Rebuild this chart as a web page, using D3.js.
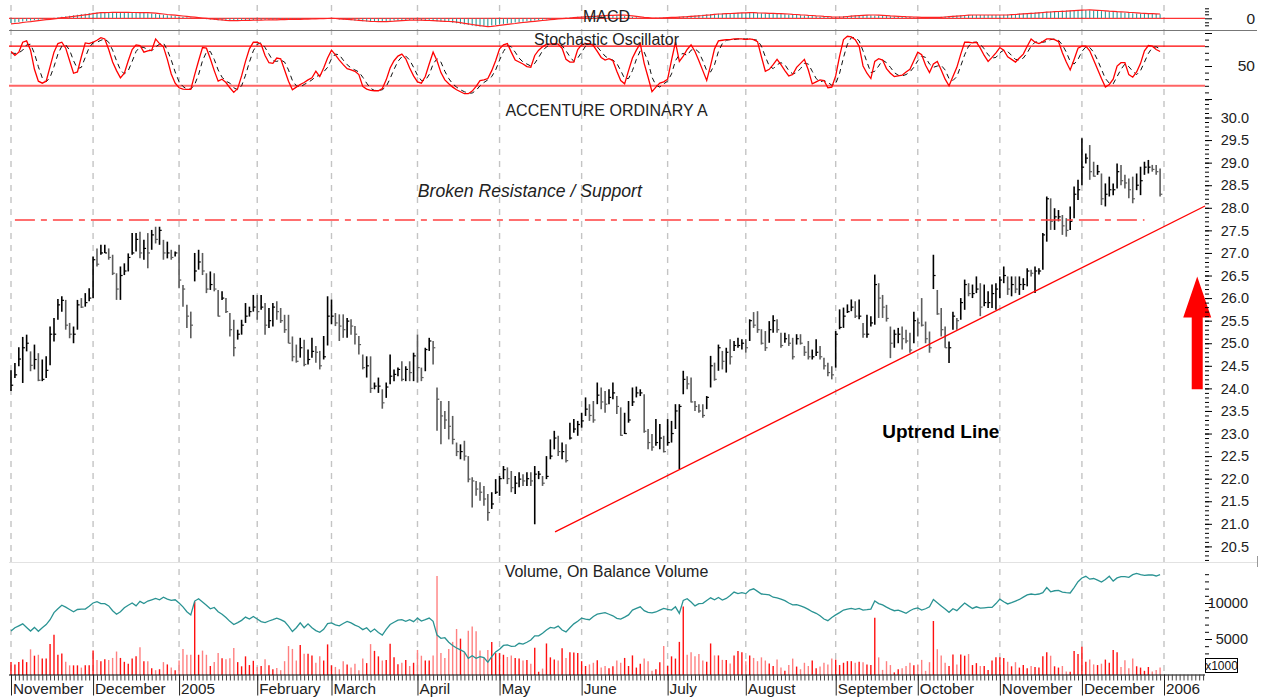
<!DOCTYPE html>
<html>
<head>
<meta charset="utf-8">
<style>
  body { margin: 0; background: #fff; }
  svg { display: block; font-family: "Liberation Sans", Arial, sans-serif; }
</style>
</head>
<body>
<div id="container"></div>
<script src="https://cdn.jsdelivr.net/npm/d3@7"></script>
<script>
    // Trading days Nov 1 2004 .. Dec 30 2005, one entry per day (index = day number)
    let monthStarts = [0, 21, 43, 63, 82, 104, 125, 146, 168, 188, 211, 232, 253, 274, 295];
    let monthLabels = ["November", "December", "2005", "February", "March", "April", "May", "June",
        "July", "August", "September", "October", "November", "December", "2006"];

    let high = [
        24.40,24.56,24.91,25.14,25.19,24.82,24.97,24.78,24.64,24.71,
        25.37,25.56,25.98,26.04,25.96,25.45,25.37,25.96,26.00,26.11,
        26.22,26.92,27.10,27.18,27.18,27.10,26.96,26.55,26.70,26.77,
        26.99,27.44,27.44,27.47,27.29,27.44,27.51,27.58,27.58,27.29,
        27.25,27.07,27.03,27.18,26.29,25.85,25.70,27.00,27.07,27.00,
        26.55,26.59,26.55,26.18,26.15,26.00,25.67,25.52,25.30,25.52,
        25.89,25.81,26.07,26.07,26.07,25.89,25.78,25.89,25.93,25.78,
        25.63,25.63,25.15,24.97,25.12,25.08,24.86,25.12,24.94,24.83,
        25.16,26.04,25.97,25.67,25.64,25.64,25.56,25.53,25.38,25.16,
        24.75,24.71,24.71,24.13,24.24,23.98,24.13,24.75,24.42,24.46,
        24.60,24.49,24.60,24.79,25.19,24.46,24.90,25.12,25.05,24.02,
        23.72,23.50,23.72,23.39,22.80,22.76,22.84,22.50,22.03,21.95,
        21.92,21.84,21.66,21.70,21.99,22.06,22.28,22.25,22.17,22.06,
        22.14,22.10,22.14,22.14,22.28,22.17,22.06,22.50,22.87,23.06,
        22.95,22.80,22.76,23.24,23.32,23.28,23.46,23.80,23.65,23.72,
        24.13,24.02,23.94,23.98,24.13,23.83,23.58,23.46,23.72,24.02,
        24.04,23.98,23.87,23.10,22.99,23.32,23.21,22.95,23.32,23.28,
        23.65,23.65,24.39,24.27,24.24,23.72,23.65,23.65,23.83,24.72,
        24.57,24.97,24.83,24.90,25.09,25.05,25.12,25.09,25.09,25.53,
        25.69,25.71,25.31,25.27,25.49,25.62,25.53,25.23,25.23,25.20,
        25.12,25.20,25.20,24.94,25.05,24.86,25.09,24.94,24.68,24.57,
        24.49,25.27,25.75,25.79,25.86,25.97,25.93,25.97,25.45,25.63,
        25.60,26.52,26.33,26.07,25.85,25.37,25.30,25.34,25.37,25.30,
        25.23,25.70,25.55,26.00,25.48,25.26,26.96,26.18,25.78,25.37,
        25.04,25.70,25.56,26.00,26.41,26.33,26.30,26.48,26.33,26.30,
        26.15,26.30,26.33,26.48,26.70,26.48,26.48,26.48,26.48,26.44,
        26.66,26.63,26.70,26.66,27.44,28.25,28.21,27.99,27.95,27.84,
        27.77,28.03,28.47,28.62,29.54,29.20,29.39,29.02,28.95,28.76,
        28.54,28.69,28.54,28.98,28.95,28.73,28.65,28.69,28.76,28.91,
        29.02,29.06,28.95,28.95,28.87];
    let low = [
        23.94,24.23,24.49,24.12,24.82,24.38,24.42,24.16,24.16,24.23,
        24.51,25.04,25.52,25.70,25.30,25.11,25.00,25.30,25.78,25.81,
        25.93,26.00,26.70,26.96,27.00,26.85,26.51,25.96,25.96,26.51,
        26.59,26.96,27.03,26.88,26.85,26.66,27.07,27.21,27.18,26.85,
        26.88,26.85,26.92,26.22,25.81,25.34,25.11,26.37,26.63,26.51,
        26.11,26.18,26.15,25.59,25.96,25.67,25.15,24.71,25.08,25.19,
        25.45,25.59,25.70,25.52,25.74,25.19,25.34,25.37,25.52,25.45,
        25.23,25.00,24.60,24.57,24.68,24.49,24.53,24.68,24.57,24.42,
        24.64,24.95,25.42,25.38,25.05,25.12,25.12,25.19,24.97,24.75,
        24.42,24.24,23.90,23.98,23.90,23.55,23.79,24.09,24.16,24.27,
        24.16,24.16,24.16,24.16,24.13,24.16,24.38,24.83,24.53,23.06,
        22.76,23.10,22.87,22.76,22.50,22.43,22.40,21.92,21.36,21.62,
        21.51,21.40,21.07,21.33,21.66,21.62,21.99,21.88,21.70,21.66,
        21.81,21.84,21.84,21.84,20.99,21.99,21.84,21.99,22.43,22.65,
        22.50,22.43,22.36,22.87,23.02,22.95,23.13,23.39,23.28,23.24,
        23.65,23.54,23.46,23.65,23.76,23.43,22.95,22.99,23.24,23.61,
        23.80,23.83,23.02,22.65,22.62,22.73,22.65,22.58,22.73,22.80,
        23.10,22.21,23.87,23.98,23.69,23.50,23.46,23.35,23.54,24.02,
        24.17,24.39,24.42,24.35,24.53,24.83,24.90,24.86,24.79,25.05,
        25.34,25.23,24.97,24.83,25.01,25.23,25.23,24.90,25.01,24.94,
        24.64,24.97,24.97,24.72,24.64,24.64,24.72,24.64,24.42,24.27,
        24.20,24.46,25.31,25.34,25.67,25.71,25.56,25.53,25.12,25.12,
        25.37,25.41,25.56,25.56,25.48,24.67,24.90,25.00,24.86,25.00,
        24.79,25.00,25.15,25.37,25.00,24.79,26.20,25.63,25.15,24.90,
        24.56,25.30,25.30,25.52,25.74,26.04,26.00,26.11,25.60,25.82,
        25.78,25.78,25.74,26.00,26.33,26.07,26.04,26.11,26.07,26.18,
        26.26,26.48,26.11,26.52,26.63,27.25,27.51,27.51,27.70,27.40,
        27.36,27.51,27.77,28.17,28.50,28.98,28.62,28.69,28.73,28.06,
        28.03,28.25,28.28,28.43,28.50,28.43,28.21,28.10,28.39,28.28,
        28.73,28.76,28.80,28.73,28.25];
    let close = [
        24.07,24.30,24.65,24.90,25.00,24.51,24.64,24.18,24.20,24.40,
        25.20,25.20,25.85,25.95,25.40,25.20,25.20,25.85,25.80,25.90,
        26.00,26.85,26.75,27.00,27.00,26.90,26.55,26.20,26.50,26.60,
        26.90,27.00,27.30,27.00,27.10,27.00,27.40,27.30,27.50,27.00,
        27.00,26.90,27.00,26.40,26.20,25.60,25.40,26.60,26.80,26.60,
        26.20,26.30,26.20,25.60,26.00,25.70,25.30,24.90,25.20,25.40,
        25.60,25.70,25.80,25.70,25.80,25.40,25.50,25.80,25.70,25.50,
        25.30,25.00,24.70,24.60,24.90,24.53,24.64,24.82,24.80,24.50,
        24.70,25.60,25.60,25.45,25.38,25.30,25.49,25.38,25.20,24.97,
        24.46,24.50,24.00,24.05,24.05,23.68,24.03,24.27,24.31,24.42,
        24.20,24.42,24.35,24.72,24.46,24.24,24.86,25.05,24.90,23.76,
        23.39,23.30,23.16,22.87,22.60,22.60,22.50,21.99,21.95,21.77,
        21.70,21.55,21.25,21.44,21.70,22.00,22.20,22.00,21.80,21.90,
        21.99,21.95,22.00,21.95,22.10,22.10,21.90,22.05,22.50,22.90,
        22.60,22.60,22.40,22.90,23.10,23.20,23.28,23.54,23.40,23.30,
        23.85,23.70,23.65,23.80,23.90,23.60,22.96,23.00,23.30,23.70,
        23.90,23.90,23.05,22.80,22.70,22.80,22.90,22.60,22.80,23.00,
        23.50,23.60,24.20,24.10,23.70,23.60,23.50,23.40,23.80,24.50,
        24.20,24.90,24.60,24.80,24.70,24.95,24.95,25.00,24.90,25.50,
        25.40,25.30,25.00,24.90,25.30,25.50,25.30,24.95,25.10,25.00,
        24.70,25.10,25.00,24.80,24.70,24.70,24.80,24.70,24.50,24.35,
        24.30,25.20,25.35,25.60,25.70,25.80,25.60,25.60,25.20,25.20,
        25.45,26.30,26.00,25.80,25.55,25.00,25.20,25.20,25.10,25.05,
        24.85,25.50,25.45,25.40,25.10,24.90,26.50,25.65,25.30,24.90,
        24.90,25.60,25.50,25.90,26.30,26.10,26.10,26.20,25.80,25.90,
        25.90,26.10,26.20,26.40,26.50,26.20,26.30,26.20,26.30,26.30,
        26.60,26.55,26.60,26.60,27.40,28.20,27.70,27.80,27.80,27.60,
        27.50,27.70,28.30,28.40,28.90,29.10,28.80,28.70,28.80,28.20,
        28.30,28.40,28.40,28.80,28.60,28.55,28.40,28.20,28.50,28.60,
        28.90,28.90,28.85,28.80,28.30];

    // Volume (x1000 shares) and On Balance Volume
    let volume = [
        1790,1470,1790,2140,1790,3570,2680,2810,2280,2280,
        4290,5580,2810,2990,1830,1340,1340,1340,1030,1340,
        1340,3390,2100,1920,2190,2100,2370,3260,2370,1830,
        1560,2280,2590,3840,1920,1920,940,670,800,1790,
        1470,1030,670,2010,3620,2810,2810,10190,2810,3390,
        2810,1250,1790,3040,2320,2190,2320,3750,1790,1210,
        2590,1380,1970,1120,1250,2190,1340,800,980,670,
        1920,4020,3620,2010,4150,2950,2950,2720,1700,2590,
        2010,4250,1340,1120,800,1920,1470,1030,1560,670,
        2280,1650,4290,3350,2590,2010,2100,4330,2450,1510,
        1700,2100,1250,1700,3480,2680,2010,2010,2720,13760,
        3040,2370,3620,4600,6390,5050,3170,6160,6740,6070,
        3390,2370,3480,4600,3040,3040,2810,2500,2720,2370,
        2280,2010,2100,1570,3800,450,890,4380,2450,2140,
        2010,3710,2370,3170,3120,3040,1920,1250,1470,1700,
        2050,1030,1250,940,1210,2010,1700,2370,1250,2720,
        1030,1570,2280,1920,580,800,1780,4020,1250,2590,
        2280,4600,9510,2810,3170,2590,2910,2010,1840,4380,
        2720,2720,2100,2100,1610,2720,3350,3170,1920,2720,
        2370,1920,2450,2010,1610,1250,2140,1030,580,1380,
        2280,1170,800,1700,1250,2010,940,1170,1700,1470,
        2280,2140,1380,1700,1920,1920,1700,1840,1780,1470,
        1380,7950,2450,710,1920,1380,360,800,940,1250,
        1700,1340,1470,2100,580,1780,7500,3580,2720,1700,
        1250,2850,1470,2850,2680,2910,1380,1650,1250,1250,
        710,2010,2450,2450,2370,1840,1210,1780,1030,1380,
        940,1250,1110,1030,2590,3170,2680,1210,1030,1250,
        500,440,3350,2910,3930,1840,2140,1470,1380,1570,
        2140,1700,3480,3170,1110,2050,940,2280,1210,1030,
        580,1110,500,710,1030];
    let obv = [
        6110,6560,6830,7100,6600,6110,6610,6070,6560,7000,
        7680,8660,9200,9690,9420,9100,8790,9100,9150,9150,
        9550,10000,10190,9920,9920,9600,8930,8440,8790,9330,
        9690,10000,9600,10230,9920,10270,10450,10630,10450,10800,
        10540,10360,10450,10000,9470,8790,8350,10270,10590,10140,
        9690,9200,9380,8790,8440,7990,7450,7010,7280,7590,
        8040,7770,8130,7770,7410,7280,7500,7680,7900,7680,
        7410,6790,6030,6560,7240,6560,7100,6560,6160,5940,
        6340,7150,7240,6970,6830,7150,7450,7240,6920,6700,
        6300,6560,5980,6380,5900,5540,6340,7010,7320,7630,
        7680,7450,7680,7410,7900,7500,7680,7900,7450,5540,
        5090,5180,4550,4100,3750,3480,3210,2320,2680,2320,
        2540,2410,1780,2540,3210,3570,4100,4190,3970,4010,
        4410,4280,4550,4860,5440,5440,5800,6250,6600,6520,
        6790,6250,5980,6560,7100,7460,7900,7770,7680,8130,
        8440,8570,8660,8440,8220,7860,7770,8040,8350,9020,
        9240,9470,8930,8710,8620,8750,9020,9240,9110,9020,
        9470,8570,10360,10590,10140,9600,9920,9960,10360,10720,
        10450,10760,10410,10630,11030,11520,11300,11430,11300,11790,
        11970,11610,11250,11210,11120,10800,10720,10540,10320,10000,
        9740,9780,9600,9380,9110,8790,8570,8220,7770,7550,
        7990,8350,8660,9020,9150,9240,9110,9240,9020,9070,
        9150,10270,9920,9740,9420,9150,8930,9020,8790,8570,
        8930,9200,9330,9020,9200,9470,10490,10050,9600,9150,
        8710,9200,8930,9470,10000,9600,9240,9470,9290,9330,
        9380,9380,9920,10540,10180,9870,10050,10270,10490,10810,
        11120,11250,11160,11250,11430,12140,11560,11700,11740,11520,
        11430,11390,12140,12950,13480,13710,13310,13400,13170,12900,
        13260,13710,13040,13480,13660,13660,13570,13930,14110,13930,
        13840,13890,13890,13750,13930];

    // Stochastic oscillator %K (solid) and %D (dashed)
    let stochK = [
        72,66,71,86,88,74,45,27,24,27,
        49,71,84,86,77,58,39,41,64,85,
        84,86,89,93,91,75,56,43,32,39,
        58,75,82,81,71,73,74,91,84,79,
        60,38,24,17,15,14.5,14.5,37,58,78,
        77,61,43,27,30,25,17,10,16,35,
        57,76,86,86,83,66,55,54,62,61,
        44,27,14,18,22,25,29,32,42,34,
        47,62,74,67,59,52,46,44,42,37,
        19,15,13,12.5,12.5,16,29,47,58,65,
        68,61,47,35,26,24,34,53,71,58,
        40,29,23,18,14,11,8,8,12,19,
        28,29,31,43,58,76,82,84,71,59,
        56,53,49,48,66,74,79,83,83,84,
        83,77,60,56,56,75,82,84,84,81,
        72,63,59,61,58,42,28,23,43,62,
        74,84,54,33,11,18,24,26,30,59,
        86,57,65,75,82,72,58,43,28,51,
        76,88,89,90,90,91,91,91,90,91,
        90,87,64,42,45,52,60,52,43,35,
        37,48,54,60,44,23,26,29,28,17,
        18,35,65,90,95,94,90,80,50,39,
        31,57,61,59,46,39,34,35,36,41,
        45,58,71,67,51,40,53,57,44,30,
        20,34,48,68,86,86,85,86,77,66,
        57,63,70,78,74,64,60,56,62,68,
        80,91,86,84,87,91,91,90,87,70,
        56,44,60,77,80,80,73,59,45,31,
        18,22,30,50,55,55,37,33,41,54,
        73,81,80,75,72];
    let stochD = [
        70,69,70,74,82,83,69,49,32,26,
        33,49,68,80,82,74,58,46,48,63,
        78,85,86,89,91,86,74,58,44,38,
        43,57,72,79,78,75,73,79,83,85,
        74,59,41,26,19,15,15,22,37,58,
        71,72,60,44,33,27,24,17,14,20,
        36,56,73,83,85,78,68,58,57,59,
        56,44,28,20,18,22,25,29,34,36,
        41,48,61,68,67,59,52,47,44,41,
        33,24,16,13,13,14,19,31,45,57,
        64,65,59,48,36,28,28,37,53,61,
        56,42,31,23,18,14,11,9,9,13,
        20,25,29,34,44,59,72,81,79,71,
        62,56,53,50,54,63,73,79,82,83,
        83,81,73,64,57,62,71,80,83,83,
        79,72,65,61,59,54,43,31,31,43,
        60,73,71,57,33,21,18,23,27,38,
        58,67,69,66,74,76,71,58,43,41,
        52,72,84,89,90,90,91,91,91,91,
        90,89,80,64,50,46,52,55,52,43,
        38,40,46,54,53,42,31,26,28,25,
        21,23,39,63,83,93,93,88,73,56,
        40,42,50,59,55,48,40,36,35,37,
        41,48,58,65,63,53,48,50,51,44,
        31,28,34,50,67,80,86,86,83,76,
        67,62,63,70,74,72,66,60,59,62,
        70,80,86,87,86,87,90,91,89,82,
        71,57,53,60,72,79,78,71,59,45,
        31,24,23,34,45,53,49,42,37,43,
        56,69,78,79,76];

    // MACD (x100): histogram bars and signal line
    let macdHist = [
        -4.8,-4.2,-3.7,-3.3,-2.8,-2.3,-1.8,-1.4,-1.0,-0.5,
        0,0.6,1.0,1.5,2.0,2.5,3.0,3.5,4.0,4.6,
        5.2,5.6,5.7,5.8,5.9,5.9,5.9,5.9,5.9,5.8,
        5.8,5.7,5.7,5.6,5.5,5.1,4.7,4.3,3.8,3.5,
        3.1,2.7,2.3,1.9,1.5,1.1,0.7,0.3,-0.1,-0.5,
        -0.9,-1.3,-1.6,-2.0,-2.3,-2.4,-2.3,-2.2,-2.1,-2.0,
        -1.9,-1.8,-1.8,-1.7,-1.6,-1.6,-1.5,-1.4,-1.3,-1.2,
        -1.1,-1.0,-1.0,-0.9,-0.8,-0.7,-0.5,-0.4,-0.3,-0.2,
        -0.1,-0.2,-0.5,-0.8,-1.1,-1.4,-1.7,-2.0,-2.4,-2.7,
        -3.0,-3.2,-3.3,-3.4,-3.3,-3.0,-2.8,-2.5,-2.3,-2.1,
        -1.9,-1.8,-1.7,-1.8,-2.0,-2.2,-2.4,-2.6,-2.8,-3.0,
        -3.2,-3.4,-3.8,-4.4,-5.0,-5.6,-6.2,-6.8,-7.4,-7.9,
        -8.3,-8.0,-7.6,-7.1,-6.6,-6.1,-5.6,-5.2,-4.6,-4.2,
        -3.8,-3.4,-3.0,-2.6,-2.2,-1.8,-1.4,-1.0,-0.7,-0.4,
        -0.1,0.2,0.6,0.9,1.2,1.5,1.8,2.0,2.2,2.5,
        2.7,2.9,3.0,3.2,3.3,3.2,2.8,2.4,2.0,1.5,
        1.0,0.6,0.2,0.1,0.3,0.5,0.7,0.9,1.0,1.2,
        1.4,1.6,1.9,2.2,2.5,2.8,3.2,3.5,3.9,4.3,
        4.4,4.6,4.8,5.0,5.2,5.4,5.5,5.6,5.6,5.4,
        5.3,5.2,5.0,4.9,4.7,4.6,4.5,4.3,4.0,3.8,
        3.5,3.3,3.0,2.8,2.5,2.3,2.0,1.8,1.5,1.3,
        1.3,1.5,1.8,2.1,2.4,2.7,3.0,3.2,3.3,3.3,
        3.1,2.9,2.7,2.4,2.2,2.0,1.8,1.6,1.5,1.3,
        1.2,1.0,1.0,1.0,1.0,1.0,1.0,1.3,1.6,1.9,
        2.2,2.5,2.8,3.1,3.3,3.3,3.3,3.3,3.3,3.3,
        3.3,3.3,3.3,3.3,3.6,3.8,4.1,4.4,4.7,5.0,
        5.2,5.5,5.8,6.1,6.3,6.6,6.8,7.0,7.2,7.5,
        7.7,7.9,8.1,8.3,8.4,8.2,8.0,7.8,7.5,7.2,
        7.0,6.7,6.5,6.3,6.0,5.8,5.5,5.1,4.9,4.7,
        4.6,4.5,4.3,4.2,4.1];
    let macdSignal = [
        -5.6,-5.2,-4.8,-4.2,-3.7,-3.3,-2.8,-2.3,-1.8,-1.4,
        -1.0,-0.5,0,0.6,1.0,1.5,2.0,2.5,3.0,3.5,
        4.0,4.6,5.2,5.6,5.7,5.8,5.9,5.9,5.9,5.9,
        5.9,5.8,5.8,5.7,5.7,5.6,5.5,5.1,4.7,4.3,
        3.8,3.5,3.1,2.7,2.3,1.9,1.5,1.1,0.7,0.3,
        -0.1,-0.5,-0.9,-1.3,-1.6,-2.0,-2.3,-2.4,-2.3,-2.2,
        -2.1,-2.0,-1.9,-1.8,-1.8,-1.7,-1.6,-1.6,-1.5,-1.4,
        -1.3,-1.2,-1.1,-1.0,-1.0,-0.9,-0.8,-0.7,-0.5,-0.4,
        -0.3,-0.2,-0.1,-0.2,-0.5,-0.8,-1.1,-1.4,-1.7,-2.0,
        -2.4,-2.7,-3.0,-3.2,-3.3,-3.4,-3.3,-3.0,-2.8,-2.5,
        -2.3,-2.1,-1.9,-1.8,-1.7,-1.8,-2.0,-2.2,-2.4,-2.6,
        -2.8,-3.0,-3.2,-3.4,-3.8,-4.4,-5.0,-5.6,-6.2,-6.8,
        -7.4,-7.9,-8.3,-8.0,-7.6,-7.1,-6.6,-6.1,-5.6,-5.2,
        -4.6,-4.2,-3.8,-3.4,-3.0,-2.6,-2.2,-1.8,-1.4,-1.0,
        -0.7,-0.4,-0.1,0.2,0.6,0.9,1.2,1.5,1.8,2.0,
        2.2,2.5,2.7,2.9,3.0,3.2,3.3,3.2,2.8,2.4,
        2.0,1.5,1.0,0.6,0.2,0.1,0.3,0.5,0.7,0.9,
        1.0,1.2,1.4,1.6,1.9,2.2,2.5,2.8,3.2,3.5,
        3.9,4.3,4.4,4.6,4.8,5.0,5.2,5.4,5.5,5.6,
        5.6,5.4,5.3,5.2,5.0,4.9,4.7,4.6,4.5,4.3,
        4.0,3.8,3.5,3.3,3.0,2.8,2.5,2.3,2.0,1.8,
        1.5,1.3,1.3,1.5,1.8,2.1,2.4,2.7,3.0,3.2,
        3.3,3.3,3.1,2.9,2.7,2.4,2.2,2.0,1.8,1.6,
        1.5,1.3,1.2,1.0,1.0,1.0,1.0,1.0,1.0,1.3,
        1.6,1.9,2.2,2.5,2.8,3.1,3.3,3.3,3.3,3.3,
        3.3,3.3,3.3,3.3,3.3,3.3,3.6,3.8,4.1,4.4,
        4.7,5.0,5.2,5.5,5.8,6.1,6.3,6.6,6.8,7.0,
        7.2,7.5,7.7,7.9,8.1,8.3,8.4,8.2,8.0,7.8,
        7.5,7.2,7.0,6.7,6.5,6.3,6.0,5.8,5.5,5.1,
        4.9,4.7,4.6,4.5,4.3];

    // Annotations, in (day index, price)
    let resistance = { from: 1, to: 290, price: 27.73 };
    let trendLine = [[139.2, 20.82], [305.5, 28.04]];
    let arrow = { day: 303.5, from: 23.98, to: 26.48, headBase: 25.57 };

    // Set up SVG
    let width = 1262, height = 700;
    let svg = d3.select("#container")
        .append("svg")
        .attr("width", width)
        .attr("height", height);

    // Scales
    let x = d3.scaleLinear().domain([0, 295]).range([11, 1164]);
    let yPrice = d3.scaleLinear().domain([20.5, 30]).range([546.4, 117.5]);
    let yStoch = d3.scaleLinear().domain([0, 100]).range([99, 33]);
    let yMacd = d3.scaleLinear().domain([-10, 10]).range([28.3, 8.3]);
    let yVol = d3.scaleLinear().domain([0, 10000]).range([675, 603]);
    let days = d3.range(close.length);
    let left = 9, right = 1205;

    // Month grid lines
    svg.append("g").selectAll("line")
        .data(monthStarts)
        .join("line")
        .attr("x1", d => x(d)).attr("x2", d => x(d))
        .attr("y1", 5).attr("y2", 674)
        .attr("stroke", "#c4c4c4").attr("stroke-width", 1.4)
        .attr("stroke-dasharray", "6,6");

    // Panel separators
    svg.append("line").attr("x1", left).attr("x2", 1257).attr("y1", 30.5).attr("y2", 30.5)
        .attr("stroke", "#777").attr("stroke-width", 1);
    svg.append("line").attr("x1", left).attr("x2", 1257).attr("y1", 562.5).attr("y2", 562.5)
        .attr("stroke", "#e2e2e2").attr("stroke-width", 1);
    svg.append("line").attr("x1", 1257.5).attr("x2", 1257.5).attr("y1", 556).attr("y2", 567)
        .attr("stroke", "#999");

    // ---- MACD panel
    svg.append("line").attr("x1", left).attr("x2", right)
        .attr("y1", yMacd(0)).attr("y2", yMacd(0)).attr("stroke", "#f00");
    svg.append("g").selectAll("line")
        .data(macdHist)
        .join("line")
        .attr("x1", (d, i) => x(i)).attr("x2", (d, i) => x(i))
        .attr("y1", yMacd(0)).attr("y2", d => yMacd(d))
        .attr("stroke", "#2e9a9a").attr("stroke-width", 1.1);
    svg.append("path")
        .datum(macdSignal)
        .attr("fill", "none").attr("stroke", "#f22").attr("stroke-width", 1.2)
        .attr("d", d3.line().x((d, i) => x(i)).y(d => yMacd(d)));

    // ---- Stochastic panel
    svg.append("line").attr("x1", left).attr("x2", right)
        .attr("y1", yStoch(80)).attr("y2", yStoch(80)).attr("stroke", "#f00").attr("stroke-width", 1.2);
    svg.append("line").attr("x1", left).attr("x2", right)
        .attr("y1", yStoch(20)).attr("y2", yStoch(20)).attr("stroke", "#ff6464").attr("stroke-width", 2);
    svg.append("path")
        .datum(stochD)
        .attr("fill", "none").attr("stroke", "#111").attr("stroke-width", 1)
        .attr("stroke-dasharray", "5,4")
        .attr("d", d3.line().x((d, i) => x(i)).y(d => yStoch(d)));
    svg.append("path")
        .datum(stochK)
        .attr("fill", "none").attr("stroke", "#f00").attr("stroke-width", 1.3)
        .attr("d", d3.line().x((d, i) => x(i)).y(d => yStoch(d)));

    // ---- Price panel: HLC bars
    let barColor = i => (i > 0 && close[i] < close[i - 1]) ? "#5c5c5c" : "#000";
    let bars = svg.append("g").selectAll("g")
        .data(days)
        .join("g");
    bars.append("line")
        .attr("x1", i => x(i)).attr("x2", i => x(i))
        .attr("y1", i => yPrice(high[i])).attr("y2", i => yPrice(low[i]))
        .attr("stroke", barColor).attr("stroke-width", 1.6);
    bars.append("line")
        .attr("x1", i => x(i)).attr("x2", i => x(i) + 2.2)
        .attr("y1", i => yPrice(close[i])).attr("y2", i => yPrice(close[i]))
        .attr("stroke", barColor).attr("stroke-width", 1.2);

    // Broken resistance / support line
    svg.append("line")
        .attr("x1", x(resistance.from)).attr("x2", x(resistance.to))
        .attr("y1", yPrice(resistance.price)).attr("y2", yPrice(resistance.price))
        .attr("stroke", "#ff4040").attr("stroke-width", 1.3)
        .attr("stroke-dasharray", "20,6,6,6");

    // Uptrend line
    svg.append("line")
        .attr("x1", x(trendLine[0][0])).attr("y1", yPrice(trendLine[0][1]))
        .attr("x2", x(trendLine[1][0])).attr("y2", yPrice(trendLine[1][1]))
        .attr("stroke", "#f00").attr("stroke-width", 1.3);

    // Red arrow
    let ax = x(arrow.day);
    svg.append("path")
        .attr("d", `M${ax - 5.5},${yPrice(arrow.from)} L${ax - 5.5},${yPrice(arrow.headBase)} L${ax - 14},${yPrice(arrow.headBase)}
                    L${ax},${yPrice(arrow.to)} L${ax + 14},${yPrice(arrow.headBase)} L${ax + 5.5},${yPrice(arrow.headBase)}
                    L${ax + 5.5},${yPrice(arrow.from)} Z`)
        .attr("fill", "#f00");

    // ---- Volume panel
    svg.append("g").selectAll("line")
        .data(volume)
        .join("line")
        .attr("x1", (d, i) => x(i)).attr("x2", (d, i) => x(i))
        .attr("y1", yVol(0)).attr("y2", d => yVol(d))
        .attr("stroke", (d, i) => (i > 0 && close[i] < close[i - 1]) ? "#ff8080" : "#ff1010")
        .attr("stroke-width", 1.4);
    svg.append("path")
        .datum(obv)
        .attr("fill", "none").attr("stroke", "#2a9393").attr("stroke-width", 1.3)
        .attr("d", d3.line().x((d, i) => x(i)).y(d => yVol(d)));

    // ---- X axis (trading-day ticks, month ticks and labels)
    let gx = svg.append("g").attr("transform", "translate(0,674.5)");
    gx.call(d3.axisBottom(x).tickValues(d3.range(0, 306)).tickSize(6).tickFormat(""))
        .call(g => g.select(".domain").attr("d", `M${left},0.5H${right}`).attr("stroke", "#000"))
        .call(g => g.selectAll(".tick line").attr("stroke", "#444"));
    let gm = svg.append("g").attr("transform", "translate(0,674.5)");
    gm.call(d3.axisBottom(x).tickValues(monthStarts).tickSize(21).tickFormat((d, i) => monthLabels[i]))
        .call(g => g.select(".domain").remove())
        .call(g => g.selectAll(".tick line").attr("stroke", "#222"))
        .call(g => g.selectAll(".tick text")
            .attr("text-anchor", "start").attr("x", 1.5).attr("y", 9).attr("dy", "0.71em")
            .attr("font-size", 15.3).attr("font-family", "Liberation Sans, Arial, sans-serif").attr("fill", "#222"));

    // ---- Right axes
    let axisFont = (dx, size) => g => g.selectAll(".tick text")
        .attr("text-anchor", "end").attr("x", dx)
        .attr("font-size", size).attr("font-family", "Liberation Sans, Arial, sans-serif").attr("fill", "#222");
    let noDomain = g => g.select(".domain").remove();

    svg.append("g").attr("transform", `translate(${right},0)`)
        .call(d3.axisRight(yPrice).tickValues(d3.range(202, 305).map(d => d / 10)).tickSize(4).tickFormat(""))
        .call(noDomain);
    svg.append("g").attr("transform", `translate(${right},0)`)
        .call(d3.axisRight(yPrice).tickValues(d3.range(41, 61).map(d => d / 2)).tickSize(7).tickFormat(d3.format(".1f")))
        .call(noDomain).call(axisFont(44, 14.5));

    svg.append("g").attr("transform", `translate(${right},0)`)
        .call(d3.axisRight(yStoch).tickValues(d3.range(0, 101, 10)).tickSize(4).tickFormat(""))
        .call(noDomain);
    svg.append("g").attr("transform", `translate(${right},0)`)
        .call(d3.axisRight(yStoch).tickValues([0, 50, 100]).tickSize(7).tickFormat(d => d === 50 ? "50" : ""))
        .call(noDomain).call(axisFont(50, 15.5));

    svg.append("g").attr("transform", `translate(${right},0)`)
        .call(d3.axisRight(yMacd).tickValues([-7, -4, 4, 7, 10]).tickSize(4).tickFormat(""))
        .call(noDomain);
    svg.append("g").attr("transform", `translate(${right},0)`)
        .call(d3.axisRight(yMacd).tickValues([0]).tickSize(7).tickFormat(d3.format("d")))
        .call(noDomain).call(axisFont(50, 15.5));

    svg.append("g").attr("transform", `translate(${right},0)`)
        .call(d3.axisRight(yVol).tickValues(d3.range(1000, 15000, 1000)).tickSize(4).tickFormat(""))
        .call(noDomain);
    svg.append("g").attr("transform", `translate(${right},0)`)
        .call(d3.axisRight(yVol).tickValues([5000, 10000]).tickSize(7).tickFormat(d3.format("d")))
        .call(noDomain).call(axisFont(43, 14.5));

    svg.append("rect").attr("x", 1205.5).attr("y", 658.5).attr("width", 32).attr("height", 14)
        .attr("fill", "#fff").attr("stroke", "#000");
    svg.append("text").attr("x", 1221.5).attr("y", 669.5).attr("text-anchor", "middle")
        .attr("font-size", 12).attr("fill", "#111").text("x1000");

    // ---- Titles and annotations
    let mid = (left + right) / 2 - 0.5;
    let title = (y, t) => svg.append("text").attr("x", mid).attr("y", y)
        .attr("text-anchor", "middle").attr("font-size", 16).attr("fill", "#222").text(t);
    title(22, "MACD");
    title(45, "Stochastic Oscillator");
    title(116, "ACCENTURE ORDINARY A");
    title(577, "Volume, On Balance Volume");

    svg.append("text")
        .attr("x", x(104.1)).attr("y", yPrice(28.24))
        .attr("font-size", 17.6).attr("font-style", "italic").attr("fill", "#222")
        .text("Broken Resistance / Support");
    svg.append("text")
        .attr("x", x(222.9)).attr("y", yPrice(22.9))
        .attr("font-size", 19).attr("font-weight", "bold").attr("fill", "#000")
        .text("Uptrend Line");
</script>
</body>
</html>
